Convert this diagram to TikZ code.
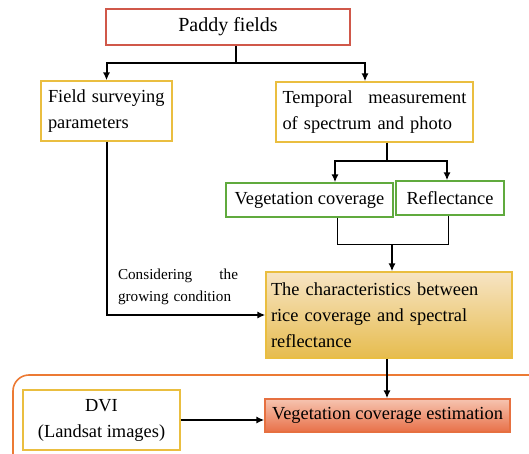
\documentclass[tikz,border=0pt]{standalone}
\usepackage{fontspec}
\setmainfont{Liberation Serif}
\usetikzlibrary{arrows.meta}
\definecolor{paddyred}{RGB}{208,88,74}
\definecolor{boxyellow}{RGB}{234,190,64}
\definecolor{boxgreen}{RGB}{96,170,62}
\definecolor{chartop}{RGB}{247,228,196}
\definecolor{charbot}{RGB}{230,188,78}
\definecolor{estTop}{RGB}{246,196,176}
\definecolor{estBot}{RGB}{232,112,72}
\definecolor{estborder}{RGB}{230,112,64}
\definecolor{frameorange}{RGB}{236,122,52}
\begin{document}
\begin{tikzpicture}[x=0.5pt,y=-0.5pt,
  box/.style={draw,line width=0.7pt,inner sep=0pt,font=\fontsize{9.2}{13}\selectfont},
  arr/.style={line width=1pt,-{Latex[length=4pt,width=3.6pt]}},
  thickline/.style={line width=1pt},
  thinline/.style={line width=0.5pt}]
\useasboundingbox (0,0) rectangle (529,454);
\clip (0,0) rectangle (529,454);
\draw[frameorange,line width=0.8pt,rounded corners=8pt] (13,375) rectangle (600,520);
\node[box,draw=paddyred,minimum width=122pt,minimum height=18pt,font=\fontsize{10}{13}\selectfont] (paddy) at (228,27) {Paddy fields};
\node[box,draw=boxyellow,minimum width=65.5pt,minimum height=30pt,text width=58.5pt,align=left] (field) at (106.5,111) {Field surveying\\parameters};
\node[box,draw=boxyellow,minimum width=98.5pt,minimum height=30pt,text width=92pt,align=left] (temporal) at (374.5,112) {Temporal\hfill measurement\\of spectrum and photo};
\node[box,draw=boxgreen,minimum width=83.5pt,minimum height=17pt] (veg) at (309.5,200) {Vegetation coverage};
\node[box,draw=boxgreen,minimum width=54pt,minimum height=17pt] (refl) at (450,198) {Reflectance};
\node[box,draw=boxyellow,top color=chartop,bottom color=charbot,minimum width=123pt,minimum height=43pt,text width=118pt,align=left] (char) at (389,315) {The characteristics between\\rice coverage and spectral\\reflectance};
\node[box,draw=boxyellow,minimum width=78.5pt,minimum height=30pt,align=center] (dvi) at (101.5,420) {DVI\\(Landsat images)};
\node[box,draw=estborder,top color=estTop,bottom color=estBot,minimum width=122.5pt,minimum height=16.5pt] (est) at (387.5,415.5) {Vegetation coverage estimation};
\node[inner sep=0pt,text width=60pt,align=left,font=\fontsize{7.6}{11}\selectfont] (cond) at (178,287) {Considering\hfill the\\growing condition};
\draw[thickline] ([xshift=4pt]paddy.south) -- ++(0,17) coordinate (j1);
\draw[arr] (j1) -| (field.north);
\draw[arr] (j1) -| ([xshift=-4.75pt]temporal.north);
\draw[thickline] ([xshift=6.25pt]temporal.south) -- ++(0,18) coordinate (j2);
\draw[arr] (j2) -| ([xshift=12.75pt]veg.north);
\draw[arr] (j2) -| ([xshift=-1.5pt]refl.north);
\draw[thinline] ([xshift=13.75pt]veg.south) -- ++(0,27) -| ([xshift=-1pt]refl.south);
\coordinate (j3) at (392,244);
\draw[arr] (j3) -- (j3 |- char.north);
\draw[arr] (field.south) |- (char.west);
\draw[arr] ([xshift=-1pt]char.south) -- ([xshift=-1pt]char.south |- est.north);
\draw[arr] (dvi.east) -- (dvi.east -| est.west);
\end{tikzpicture}
\end{document}
